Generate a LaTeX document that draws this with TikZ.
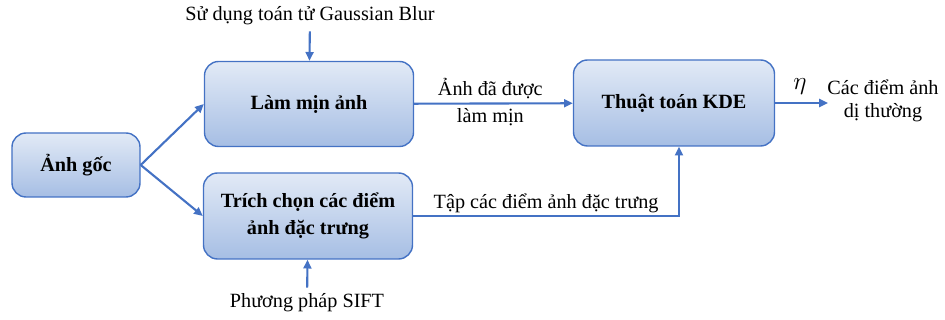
\documentclass[tikz,border=0pt]{standalone}
\usepackage{fontspec}
\setmainfont{Liberation Serif}
\usetikzlibrary{arrows.meta}

\definecolor{boxline}{RGB}{68,114,196}
\definecolor{boxtop}{RGB}{226,234,246}
\definecolor{boxbot}{RGB}{166,190,228}

\tikzset{
  block/.style={draw=boxline, line width=0.8pt, rounded corners=8pt,
    top color=boxtop, bottom color=boxbot, align=center,
    font=\fontsize{11.5}{15}\selectfont\bfseries},
  flow/.style={draw=boxline, line width=1.2pt, -{Triangle[length=5pt,width=4.5pt]}},
  lbl/.style={font=\fontsize{11.5}{13}\selectfont, align=center}
}

\begin{document}
\begin{tikzpicture}[x=0.2mm, y=-0.2mm]
  \useasboundingbox (0,0) rectangle (945,320);

  % Blocks
  \node[block, minimum width=2.56cm, minimum height=1.28cm] (goc) at (76,165) {Ảnh gốc};
  \node[block, minimum width=4.18cm, minimum height=1.7cm] (lammin) at (309,104) {Làm mịn ảnh};
  \node[block, minimum width=4.18cm, minimum height=1.72cm] (trich) at (308,216) {Trích chọn các điểm\\ảnh đặc trưng};
  \node[block, minimum width=4.02cm, minimum height=1.72cm] (kde) at (674,103) {Thuật toán KDE};

  % Inputs and output
  \node[lbl] (gauss) at (310,16) {Sử dụng toán tử Gaussian Blur};
  \node[lbl] (sift) at (307,303) {Phương pháp SIFT};
  \node[lbl, font=\fontsize{15}{15}\selectfont] (eta) at (800,87) {$\eta$};
  \coordinate (ra) at (828,103);
  \node[lbl] (ketqua) at (883,101) {Các điểm ảnh\\dị thường};

  % Arrows
  \draw[flow] (goc.east) -- (lammin.west);
  \draw[flow] (goc.east) -- (trich.west);
  \draw[flow] (gauss) -- (lammin);
  \draw[flow] (sift) -- (trich);
  \draw[flow] (lammin) -- node[lbl, pos=0.48, yshift=0.03cm, font=\fontsize{11.5}{15}\selectfont] (lbllm) {Ảnh đã được\\làm mịn} (kde);
  \draw[flow] (trich.east) -| node[lbl, pos=0.25, above, inner sep=1pt] (lbltap) {Tập các điểm ảnh đặc trưng} ([xshift=0.1cm]kde.south);
  \draw[flow] (kde.east) -- (ra);

\end{tikzpicture}
\end{document}
